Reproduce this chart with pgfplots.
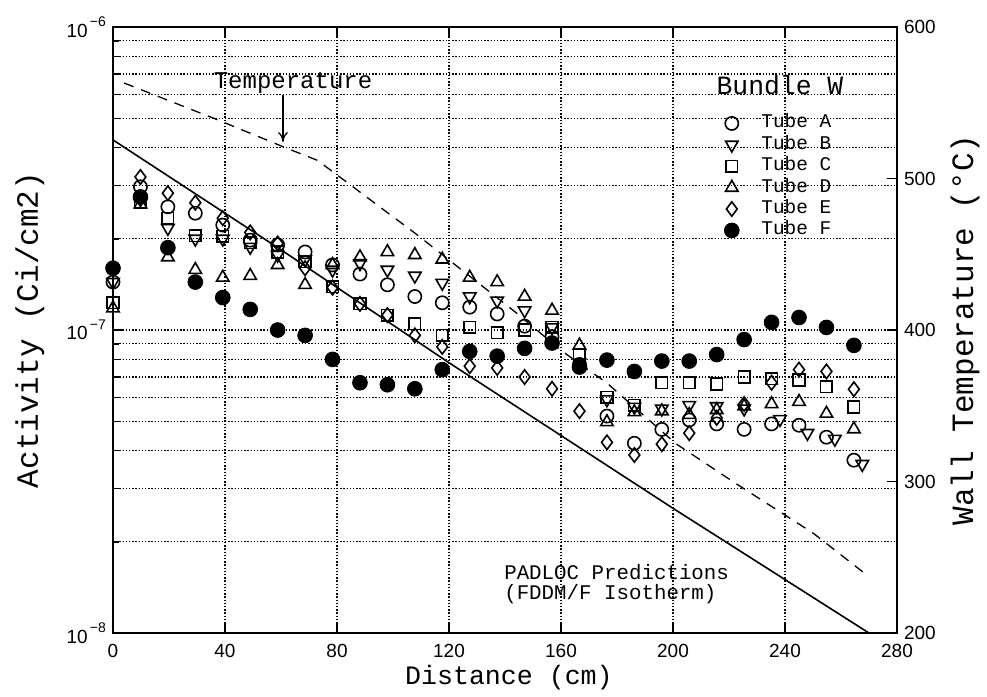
\documentclass[border=0pt]{standalone}
\usepackage{pgfplots}
\pgfplotsset{compat=1.18}
\usepackage{fontspec}
\setmainfont{Liberation Mono}
\newfontfamily\ticksans{Liberation Sans}
\usetikzlibrary{arrows.meta}

\begin{document}
\begin{tikzpicture}
\begin{axis}[name=main,
  scale only axis, width=392pt, height=303pt,
  xmin=0, xmax=280, ymin=1e-8, ymax=1e-6, ymode=log,
  xtick={0,40,...,280},
  ytick={1e-8,1e-7,1e-6},
  yticklabels={{10\raisebox{0.55em}{\fontsize{7}{7}\selectfont\,−8}},{10\raisebox{0.55em}{\fontsize{7}{7}\selectfont\,−7}},{10\raisebox{0.55em}{\fontsize{7}{7}\selectfont\,−6}}},
  ytick pos=left,
  /pgf/number format/assume math mode=true,
  tick label style={font=\ticksans\fontsize{9.5}{11}\selectfont, black},
  xticklabel style={yshift=-2pt},
  tick align=inside,
  major tick length=5pt, minor tick length=3pt,
  tick style={black, line width=0.7pt},
  axis line style={black, line width=1pt},
  xmajorgrids, ymajorgrids, yminorgrids,
  major grid style={black, line width=0.55pt, dash pattern=on 0.7pt off 0.9pt},
  minor grid style={black, line width=0.55pt, dash pattern=on 0.7pt off 0.9pt},
  xlabel={Distance (cm)},
  ylabel={Activity (Ci/cm2)},
  every axis x label/.style={at={(axis description cs:0.505,-0.0743)}, anchor=center, font=\fontsize{13.3}{13}\selectfont},
  every axis y label/.style={at={(axis description cs:-0.106,0.5)}, rotate=90, anchor=center, font=\fontsize{15.5}{15}\selectfont},
  legend image code/.code={\draw[mark repeat=1,#1] plot coordinates {(0.3cm,0pt)}; \path[draw=none] (0cm,0pt) -- (0.82cm,0pt);},
  legend style={at={(axis description cs:0.767,0.8556)}, anchor=north west, draw=none, fill=none,
    font=\fontsize{9.7}{10}\selectfont, inner sep=0pt,
    nodes={inner sep=0pt, text height=6.5pt, text depth=2pt}, row sep=2.2pt},
  legend cell align=left,
  clip=false,
]
% Tube A
\addplot[only marks, mark=o, mark size=3.3pt, line width=0.8pt, black] coordinates {
(0,1.44e-7)(9.8,2.97e-7)(19.6,2.55e-7)(29.4,2.43e-7)(39.2,2.22e-7)(49,1.98e-7)(58.8,1.91e-7)
(68.6,1.81e-7)(78.4,1.64e-7)(88.2,1.53e-7)(98,1.41e-7)(107.8,1.29e-7)(117.6,1.23e-7)(127.4,1.19e-7)
(137.2,1.13e-7)(147,1.03e-7)(156.8,9.5e-8)(166.6,7.7e-8)(176.4,5.2e-8)(186.2,4.23e-8)(196,4.7e-8)
(205.8,5.05e-8)(215.6,4.9e-8)(225.4,4.7e-8)(235.2,4.9e-8)(245,4.85e-8)(254.8,4.43e-8)(264.6,3.72e-8)};
\addlegendentry{Tube A}
% Tube B
\addplot[only marks, mark=triangle, mark size=3.6pt, mark options={rotate=180}, line width=0.8pt, black] coordinates {
(0,1.44e-7)(9.8,2.7e-7)(19.6,2.17e-7)(29.4,2.0e-7)(39.2,2.0e-7)(49,1.88e-7)(58.8,1.77e-7)
(68.6,1.71e-7)(78.4,1.58e-7)(88.2,1.66e-7)(98,1.58e-7)(107.8,1.51e-7)(117.6,1.43e-7)(127.4,1.29e-7)
(137.2,1.25e-7)(147,1.16e-7)(156.8,1.02e-7)(166.6,7.8e-8)(176.4,5.9e-8)(186.2,5.57e-8)(196,5.5e-8)
(205.8,5.65e-8)(215.6,5.6e-8)(225.4,5.5e-8)(238.2,5.08e-8)(248,4.57e-8)(257.8,4.37e-8)(267.6,3.61e-8)};
\addlegendentry{Tube B}
% Tube C
\addplot[only marks, mark=square, mark size=2.9pt, line width=0.8pt, black] coordinates {
(0,1.23e-7)(9.8,2.63e-7)(19.6,2.34e-7)(29.4,2.05e-7)(39.2,2.04e-7)(49,1.94e-7)(58.8,1.81e-7)
(68.6,1.68e-7)(78.4,1.39e-7)(88.2,1.22e-7)(98,1.12e-7)(107.8,1.05e-7)(117.6,9.6e-8)(127.4,1.02e-7)
(137.2,9.8e-8)(147,1.0e-7)(156.8,1.02e-7)(166.6,8.3e-8)(176.4,6.0e-8)(186.2,5.65e-8)(196,6.7e-8)
(205.8,6.7e-8)(215.6,6.64e-8)(225.4,7.0e-8)(235.2,6.9e-8)(245,6.84e-8)(254.8,6.5e-8)(264.6,5.57e-8)};
\addlegendentry{Tube C}
% Tube D
\addplot[only marks, mark=triangle, mark size=3.6pt, line width=0.8pt, black] coordinates {
(0,1.18e-7)(9.8,2.6e-7)(19.6,1.74e-7)(29.4,1.58e-7)(39.2,1.49e-7)(49,1.51e-7)(58.8,1.64e-7)
(68.6,1.41e-7)(78.4,1.64e-7)(88.2,1.74e-7)(98,1.81e-7)(107.8,1.77e-7)(117.6,1.71e-7)(127.4,1.49e-7)
(137.2,1.44e-7)(147,1.29e-7)(156.8,1.16e-7)(166.6,8.9e-8)(176.4,4.97e-8)(186.2,5.36e-8)(196,5.4e-8)
(205.8,5.25e-8)(215.6,5.45e-8)(225.4,5.6e-8)(235.2,5.7e-8)(245,5.8e-8)(254.8,5.3e-8)(264.6,4.71e-8)};
\addlegendentry{Tube D}
% Tube E
\addplot[only marks, mark=diamond, mark size=3.6pt, line width=0.8pt, black] coordinates {
(9.8,3.2e-7)(19.6,2.83e-7)(29.4,2.63e-7)(39.2,2.34e-7)(49,2.1e-7)(58.8,1.93e-7)
(68.6,1.6e-7)(78.4,1.38e-7)(88.2,1.22e-7)(98,1.12e-7)(107.8,9.6e-8)(117.6,8.8e-8)(127.4,7.6e-8)
(137.2,7.5e-8)(147,7.0e-8)(156.8,6.4e-8)(166.6,5.4e-8)(176.4,4.26e-8)(186.2,3.87e-8)(196,4.2e-8)
(205.8,4.57e-8)(215.6,5.13e-8)(225.4,5.7e-8)(235.2,6.7e-8)(245,7.4e-8)(254.8,7.3e-8)(264.6,6.38e-8)};
\addlegendentry{Tube E}
% Tube F
\addplot[only marks, mark=*, mark size=3.7pt, black, mark options={fill=black}] coordinates {
(0,1.6e-7)(9.8,2.75e-7)(19.6,1.87e-7)(29.4,1.44e-7)(39.2,1.28e-7)(49,1.17e-7)(58.8,1.0e-7)
(68.6,9.6e-8)(78.4,8.0e-8)(88.2,6.7e-8)(98,6.6e-8)(107.8,6.4e-8)(117.6,7.4e-8)(127.4,8.5e-8)
(137.2,8.2e-8)(147,8.7e-8)(156.8,9.06e-8)(166.6,7.55e-8)(176.4,7.96e-8)(186.2,7.3e-8)(196,7.9e-8)
(205.8,7.9e-8)(215.6,8.3e-8)(225.4,9.3e-8)(235.2,1.06e-7)(245,1.1e-7)(254.8,1.02e-7)(264.6,8.9e-8)};
\addlegendentry{Tube F}
% PADLOC prediction
\addplot[black, line width=0.8pt, forget plot] coordinates {
(0,4.24e-7)(60,1.84e-7)(120,7.8e-8)(200,2.58e-8)(270,1.0e-8)};
% annotations
\node[anchor=base, font=\fontsize{12}{12}\selectfont] at (axis cs:64.3,6.29e-7) {Temperature};
\draw[-{To[length=5pt,width=5pt]}, line width=0.6pt] (axis cs:60.7,5.97e-7) -- (axis cs:60.7,4.17e-7);
\node[anchor=base, font=\fontsize{13.2}{13}\selectfont] at (axis cs:238.2,5.97e-7) {Bundle W};
\node[anchor=base west, inner sep=0pt, font=\fontsize{10.4}{11}\selectfont] at (axis cs:139.6,1.50e-8) {PADLOC Predictions};
\node[anchor=base west, inner sep=0pt, font=\fontsize{10.4}{11}\selectfont] at (axis cs:139.6,1.29e-8) {(FDDM/F Isotherm)};
\end{axis}
\begin{axis}[
  scale only axis, width=392pt, height=303pt,
  at={(main.south west)}, anchor=south west,
  xmin=0, xmax=280, ymin=200, ymax=600,
  axis x line=none, axis y line*=right,
  ytick={200,300,...,600},
  /pgf/number format/assume math mode=true,
  tick label style={font=\ticksans\fontsize{9.5}{11}\selectfont, black},
  tick align=inside, major tick length=5pt,
  tick style={black, line width=0.7pt},
  axis line style={black, line width=1pt},
  ylabel={Wall Temperature (°C)},
  every axis y label/.style={at={(axis description cs:1.087,0.5)}, rotate=90, anchor=center, font=\fontsize{15.5}{15}\selectfont},
]
\addplot[black, line width=0.65pt, dash pattern=on 5pt off 4pt] coordinates {
(4,563)(37,539)(62,520)(73,512)(81,501)(108.5,463)(122.9,442)(142.9,413)(160.4,386)(176.4,365)(201,325)(223,298)(250,266)(268,240)};
\end{axis}
\pgfresetboundingbox
\path[use as bounding box] ([xshift=-56.5pt,yshift=-31.5pt]main.south west) rectangle ([xshift=45pt,yshift=13.5pt]main.north east);
\end{tikzpicture}
\end{document}
